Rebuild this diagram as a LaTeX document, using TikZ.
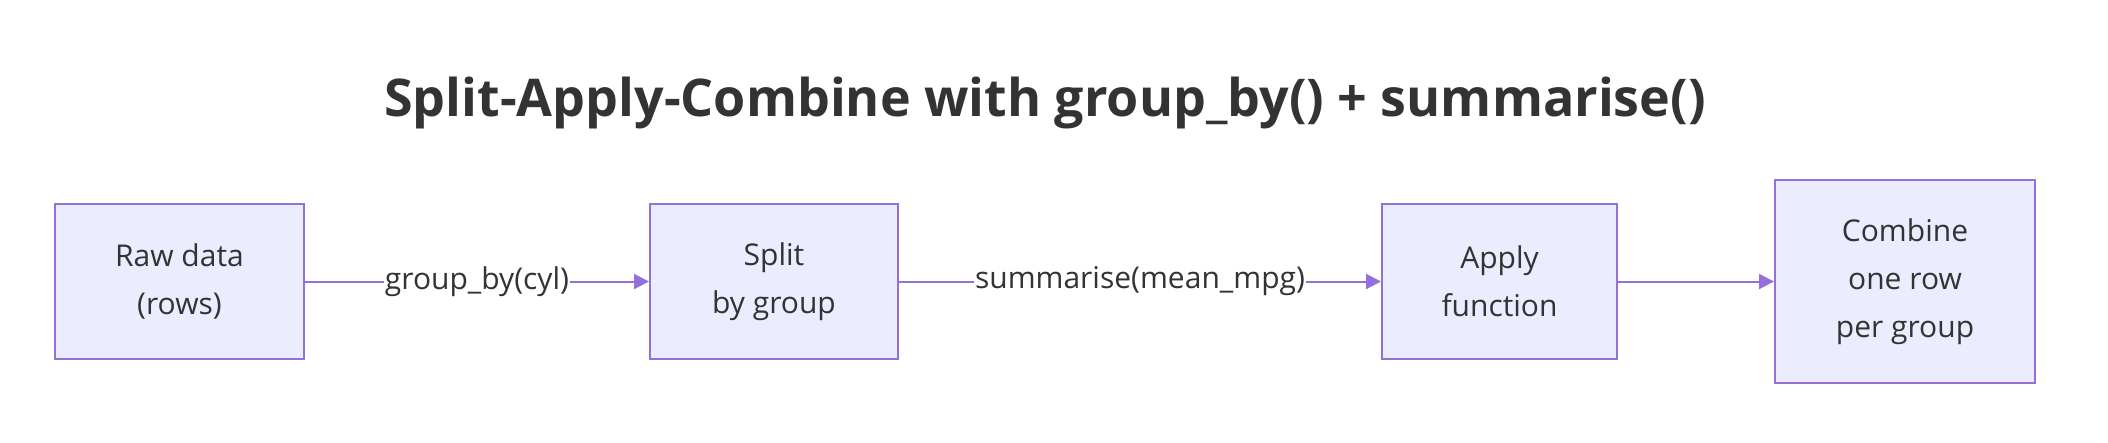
\documentclass[tikz,border=0pt]{standalone}
\usepackage{fontspec}
\setmainfont{Open Sans}
\usepackage{tikz}
\usetikzlibrary{%
  arrows.meta,% Triangle tips
  positioning%
}
\definecolor{boxfill}{HTML}{ECECFF}
\definecolor{boxline}{HTML}{9370DB}
\definecolor{inktext}{HTML}{333333}

\tikzset{
  StepBox/.style = {draw=boxline, line width=2pt, fill=boxfill, text=inktext,
    align=center, inner sep=0pt, minimum height=155pt,
    font=\fontsize{30}{48}\selectfont},
  FlowEdge/.style = {-{Triangle[length=15pt,width=15pt]}, line width=2pt, boxline},
  EdgeLabel/.style = {fill=white, text=inktext, inner sep=1pt,
    font=\fontsize{30}{36}\selectfont}
}

\begin{document}
\begin{tikzpicture}[x=1pt, y=-1pt]
  \useasboundingbox (0,0) rectangle (2108,442);

  \node[text=inktext, font=\fontsize{52}{60}\selectfont\bfseries, anchor=base]
    (title) at (1045,116) {Split-Apply-Combine with group\_by() + summarise()};

  \node[StepBox, minimum width=249pt] (raw)     at ( 179.5,281.5) {Raw data\\(rows)};
  \node[StepBox, minimum width=248pt] (split)   at ( 774.0,281.5) {Split\\by group};
  \node[StepBox, minimum width=235pt] (apply)   at (1499.5,281.5) {Apply\\function};
  \node[StepBox, minimum width=260pt, minimum height=203pt]
                                      (combine) at (1905.0,281.5) {Combine\\one row\\per group};

  % flow from step to step
  \draw[FlowEdge] (raw)   -- node[EdgeLabel] {group\_by(cyl)} (split);
  \draw[FlowEdge] (split) -- node[EdgeLabel] {summarise(mean\_mpg)} (apply);
  \draw[FlowEdge] (apply) -- (combine);
\end{tikzpicture}
\end{document}
